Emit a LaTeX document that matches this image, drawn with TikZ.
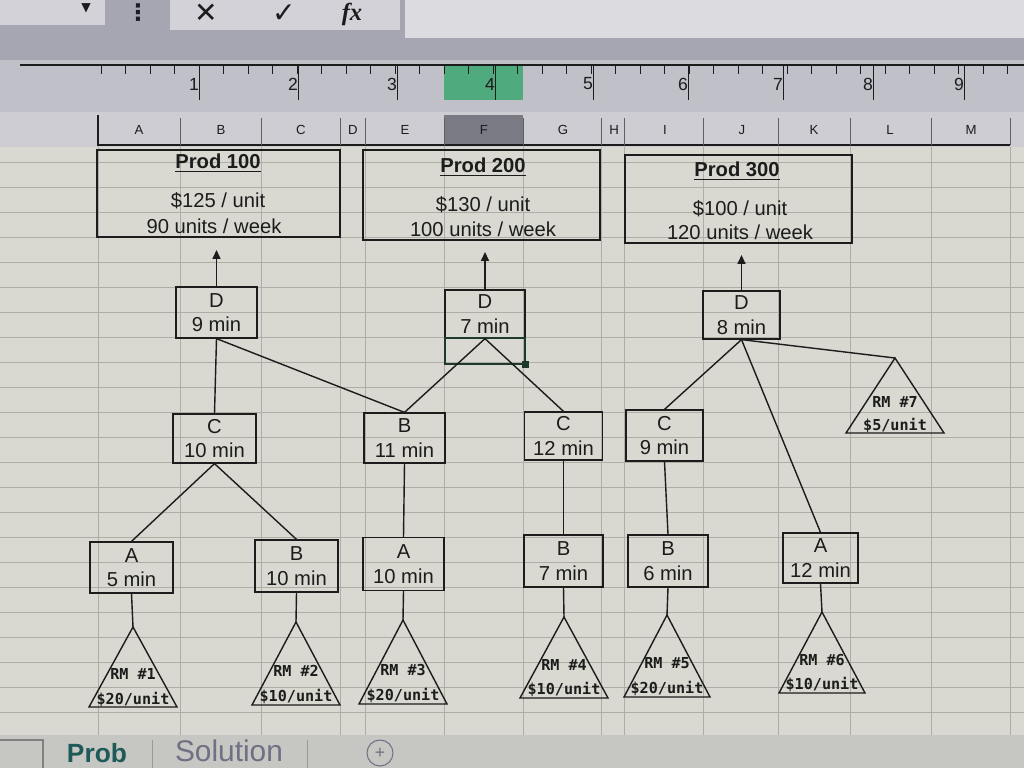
\documentclass[tikz,border=0pt]{standalone}
\usepackage{fontspec}
\setmainfont{Liberation Sans}
\newfontfamily\dvsans{DejaVu Sans}
\newfontfamily\dvmono{DejaVu Sans Mono}
\usetikzlibrary{arrows.meta}
\definecolor{sheetbg}{HTML}{D9D9D2}
\definecolor{gridln}{HTML}{AEAEA7}
\definecolor{ink}{HTML}{1C1C1C}
\definecolor{toolbg}{HTML}{A6A6B2}
\definecolor{toolbox}{HTML}{D2D2D8}
\definecolor{rulerbg}{HTML}{C0C0C9}
\definecolor{hdrbg}{HTML}{CDCDD3}
\definecolor{selhdr}{HTML}{7A7A84}
\definecolor{rulergreen}{HTML}{4FAA7E}
\definecolor{tabbg}{HTML}{C6C6C3}
\definecolor{probteal}{HTML}{1D5A58}
\definecolor{soltext}{HTML}{707084}
\definecolor{selgreen}{HTML}{1F3A2A}

\tikzset{
  cellbox/.style={draw=ink, line width=0.7pt, align=center, inner sep=0pt, text=ink,
    font=\fontsize{11.5}{14}\selectfont},
  dims/.style 2 args={minimum width=#1*0.02cm, minimum height=#2*0.02cm},
  link/.style={draw=ink, line width=0.8pt},
  uparrow/.style={draw=ink, line width=0.8pt, -{Triangle[length=5pt,width=4.5pt]}},
  prodbox/.style={draw=ink, line width=0.9pt, inner sep=0pt},
  prodtitle/.style={font=\fontsize{11.5}{14}\selectfont\bfseries, text=ink, inner sep=0pt},
  prodtext/.style={font=\fontsize{11.5}{14}\selectfont, text=ink, inner sep=0pt},
  rmtri/.style={draw=ink, line width=0.8pt},
  rmlabel/.style={font=\dvmono\bfseries\fontsize{8.6}{10}\selectfont, text=ink, inner sep=0pt},
  uitext/.style={text=ink, inner sep=0pt},
}

% name, apex x, apex y, height, half base, label, price
\newcommand\rmtriangle[7]{%
  \draw[rmtri] (#2,#3) coordinate (#1) -- ++(-#5,#4) -- ++(2*#5,0) -- cycle;
  \node[rmlabel] (#1-name) at (#2,#3+0.59*#4) {#6};
  \node[rmlabel] (#1-price) at (#2,#3+0.9*#4) {#7};
}

\begin{document}
\begin{tikzpicture}[x=0.02cm, y=-0.02cm]
\useasboundingbox (0,0) rectangle (1024,768);

% ---------- toolbar ----------
\fill[toolbg] (0,0) rectangle (1024,112);
\fill[toolbox] (0,-5) rectangle (105,25);
\node[uitext, font=\fontsize{7}{8}\selectfont\dvsans] (nbarrow) at (86,8) {▼};
\node[uitext, font=\fontsize{13}{15}\selectfont\dvsans\bfseries] (dots) at (138,13) {⋮};
\fill[toolbox] (170,-5) rectangle (400,30);
\fill[toolbox!80!white] (405,-5) rectangle (1024,38);
\node[uitext, font=\fontsize{16}{18}\selectfont\dvsans] (xbtn) at (206,13) {✕};
\node[uitext, font=\fontsize{16}{18}\selectfont\dvsans] (okbtn) at (284,14) {✓};
\node[uitext, font=\fontsize{14}{16}\selectfont\itshape\bfseries] (fxbtn) at (352,14) {\fontspec{Liberation Serif}fx};

% ---------- ruler ----------
\fill[rulerbg] (0,60) rectangle (1024,112);
\fill[rulergreen] (444,66) rectangle (523,100);
\draw[ink, line width=0.6pt] (20,65) -- (1024,65);
\foreach \i in {0,...,37} {
  \draw[ink, line width=0.5pt] (101+\i*24.5,65) -- (101+\i*24.5,74);
}
\foreach \n/\x in {1/194,2/293,3/392,4/490,5/588,6/683,7/778,8/868,9/959} {
  \draw[ink, line width=0.5pt] (\x+5,65) -- (\x+5,100);
  \node[uitext, font=\fontsize{10}{12}\selectfont] (ruler\n) at (\x,84) {\n};
}

% ---------- column headers ----------
\fill[hdrbg] (0,112) rectangle (1024,147);
\fill[selhdr] (444,115) rectangle (523,145);
\draw[ink, line width=0.6pt] (98,115) -- (98,145) -- (1010,145);
\foreach \x in {180,261,340,365,444,523,601,624,703,778,850,931,1010} {
  \draw[ink!70, line width=0.4pt] (\x,118) -- (\x,145);
}
\foreach \l/\x in {A/139,B/221,C/301,D/353,E/405,F/484,G/563,H/614,I/665,J/742,K/814,L/890,M/971} {
  \node[uitext, font=\fontsize{7.5}{9}\selectfont] (col\l) at (\x,130) {\l};
}

% ---------- sheet ----------
\fill[sheetbg] (0,147) rectangle (1024,735);
\foreach \x in {98,180,261,340,365,444,523,601,624,703,778,850,931,1010} {
  \draw[gridln, line width=0.4pt] (\x,147) -- (\x,735);
}
\foreach \y in {162,187,...,712} {
  \draw[gridln, line width=0.4pt] (0,\y) -- (1024,\y);
}

% ---------- product boxes ----------
\node[prodbox, dims={243}{87}] (prod1) at (218.5,193.5) {};
\node[prodbox, dims={237}{90}] (prod2) at (481.5,195) {};
\node[prodbox, dims={227}{88}] (prod3) at (738.5,199) {};

\node[prodtitle] (p1t) at (218,163) {\underline{Prod 100}};
\node[prodtext] (p1p) at (218,201) {\$125 / unit};
\node[prodtext] (p1u) at (214,226) {90 units / week};

\node[prodtitle] (p2t) at (483,167) {\underline{Prod 200}};
\node[prodtext] (p2p) at (483,205) {\$130 / unit};
\node[prodtext] (p2u) at (483,229) {100 units / week};

\node[prodtitle] (p3t) at (737,171) {\underline{Prod 300}};
\node[prodtext] (p3p) at (740,209) {\$100 / unit};
\node[prodtext] (p3u) at (740,232) {120 units / week};

% ---------- operation boxes ----------
\node[cellbox, dims={81}{51}] (d1) at (216.5,312.5) {D\\9 min};
\node[cellbox, dims={80}{48}] (d2) at (485,314) {D\\7 min};
\node[cellbox, dims={77}{48}] (d3) at (741.5,315) {D\\8 min};

\node[cellbox, dims={83}{49}] (c1) at (214.5,438.5) {C\\10 min};
\node[cellbox, dims={81}{50}] (b2) at (404.5,438) {B\\11 min};
\node[cellbox, dims={78}{48}] (c2) at (563.5,436) {C\\12 min};
\node[cellbox, dims={77}{51}] (c3) at (664.5,435.5) {C\\9 min};

\node[cellbox, dims={83}{51}] (a1) at (131.5,567.5) {A\\5 min};
\node[cellbox, dims={83}{52}] (b1) at (296.5,566) {B\\10 min};
\node[cellbox, dims={81}{53}] (a2) at (403.5,564) {A\\10 min};
\node[cellbox, dims={79}{52}] (b3) at (563.5,561) {B\\7 min};
\node[cellbox, dims={80}{52}] (b4) at (668,561) {B\\6 min};
\node[cellbox, dims={75}{50}] (a3) at (820.5,558) {A\\12 min};

% selected cell
\draw[selgreen, line width=1.6pt] (445,338) rectangle (525,364);
\fill[selgreen] (522,361) rectangle (529,368);

% ---------- raw material triangles ----------
\rmtriangle{rm1}{133}{627}{80}{44}{RM \#1}{\$20/unit}
\rmtriangle{rm2}{296}{622}{83}{44}{RM \#2}{\$10/unit}
\rmtriangle{rm3}{403}{620}{84}{44}{RM \#3}{\$20/unit}
\rmtriangle{rm4}{564}{617}{81}{44}{RM \#4}{\$10/unit}
\rmtriangle{rm5}{667}{615}{82}{43}{RM \#5}{\$20/unit}
\rmtriangle{rm6}{822}{612}{81}{43}{RM \#6}{\$10/unit}
\rmtriangle{rm7}{895}{358}{75}{49}{RM \#7}{\$5/unit}

% ---------- connectors ----------
\draw[uparrow] (d1.north) -- (d1.north |- 0,250);
\draw[uparrow] (d2.north) -- (d2.north |- 0,252);
\draw[uparrow] (d3.north) -- (d3.north |- 0,255);

\draw[link] (d1.south) -- (c1.north);
\draw[link] (d1.south) -- (b2.north);
\draw[link] (d2.south) -- (b2.north);
\draw[link] (d2.south) -- (c2.north);
\draw[link] (d3.south) -- (c3.north);
\draw[link] (d3.south) -- (a3.north);
\draw[link] (d3.south) -- (rm7);

\draw[link] (c1.south) -- (a1.north);
\draw[link] (c1.south) -- (b1.north);
\draw[link] (b2.south) -- (a2.north);
\draw[link] (c2.south) -- (b3.north);
\draw[link] (c3.south) -- (b4.north);

\draw[link] (a1.south) -- (rm1);
\draw[link] (b1.south) -- (rm2);
\draw[link] (a2.south) -- (rm3);
\draw[link] (b3.south) -- (rm4);
\draw[link] (b4.south) -- (rm5);
\draw[link] (a3.south) -- (rm6);

% ---------- sheet tabs ----------
\fill[tabbg] (0,735) rectangle (1024,768);
\draw[gray, line width=0.6pt] (0,740) -- (43,740) -- (43,768);
\draw[gray!80, line width=0.5pt] (152,740) -- (152,768);
\draw[gray!80, line width=0.5pt] (307,740) -- (307,768);
\node[uitext, font=\fontsize{15}{17}\selectfont\bfseries, text=probteal] (tabprob) at (97,753) {Prob};
\node[uitext, font=\fontsize{17}{19}\selectfont, text=soltext] (tabsol) at (229,751) {Solution};
\node[draw=soltext, circle, line width=0.6pt, minimum size=26*0.02cm, inner sep=0pt,
      font=\fontsize{10}{12}\selectfont, text=soltext] (tabadd) at (380,753) {+};
\end{tikzpicture}
\end{document}
